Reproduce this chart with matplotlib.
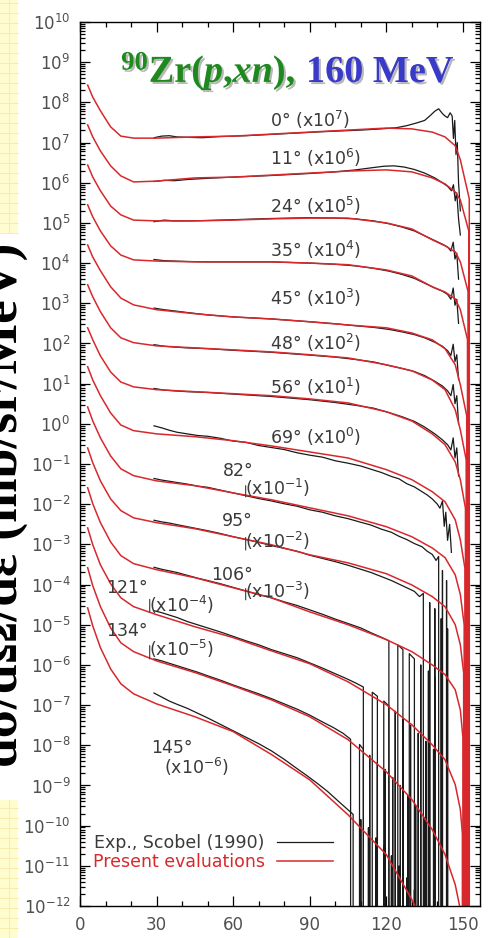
import numpy as np
import matplotlib.pyplot as plt
from matplotlib import patheffects
from matplotlib.lines import Line2D
from matplotlib.patches import Rectangle
from matplotlib.ticker import LogLocator, MultipleLocator, NullFormatter

plt.rcParams['font.family'] = ['DejaVu Sans']
plt.rcParams['mathtext.fontset'] = 'custom'
plt.rcParams['mathtext.it'] = 'Liberation Serif:italic:bold'
plt.rcParams['mathtext.default'] = 'regular'

Z = -np.inf  # channel with no counts (log10 of zero)

# emission angles (deg) and the power of ten each spectrum is scaled by
angles = [0, 11, 24, 35, 45, 48, 56, 69, 82, 95, 106, 121, 134, 145]
powers = [7, 6, 5, 4, 3, 2, 1, 0, -1, -2, -3, -4, -5, -6]

# present evaluations: log10 of scaled cross section on a common energy grid (MeV)
ev_e = [3, 5, 8, 12, 16, 21, 30, 45, 60, 75, 90, 105, 120, 130, 138, 143, 147, 149]
ev_0 = [8.43, 8.13, 7.79, 7.39, 7.16, 7.11, 7.11, 7.14, 7.16, 7.21, 7.26, 7.31, 7.36, 7.34, 7.26, 7.14, 6.92, 6.57]
ev_11 = [7.44, 7.14, 6.79, 6.42, 6.17, 6.02, 6.04, 6.12, 6.14, 6.19, 6.24, 6.29, 6.32, 6.27, 6.12, 5.97, 5.77, 5.57]
ev_24 = [6.44, 6.14, 5.80, 5.42, 5.20, 5.07, 5.05, 5.05, 5.07, 5.10, 5.12, 5.12, 5.00, 4.85, 4.58, 4.43, 4.28, 4.03]
ev_35 = [5.45, 5.15, 4.80, 4.43, 4.20, 4.08, 4.05, 4.03, 4.03, 4.03, 4.00, 3.96, 3.83, 3.68, 3.41, 3.28, 3.11, 2.84]
ev_45 = [4.45, 4.15, 3.81, 3.41, 3.13, 2.96, 2.84, 2.74, 2.66, 2.61, 2.54, 2.46, 2.39, 2.26, 2.09, 1.87, 1.47, 0.97]
ev_48 = [3.46, 3.16, 2.79, 2.39, 2.14, 2.02, 1.94, 1.89, 1.84, 1.79, 1.72, 1.64, 1.47, 1.32, 1.09, 0.85, 0.35, -0.15]
ev_56 = [2.39, 2.09, 1.69, 1.29, 1.04, 0.92, 0.85, 0.80, 0.75, 0.70, 0.62, 0.52, 0.30, 0.07, -0.25, -0.52, -0.95, -1.39]
ev_69 = [1.42, 1.09, 0.70, 0.27, -0.03, -0.17, -0.25, -0.32, -0.42, -0.55, -0.70, -0.85, -1.14, -1.39, -1.69, -1.94, -2.39, -2.89]
ev_82 = [0.42, 0.07, -0.35, -0.80, -1.12, -1.29, -1.42, -1.54, -1.72, -1.89, -2.09, -2.29, -2.56, -2.81, -3.09, -3.33, -3.76, -4.25]
ev_95 = [-0.60, -0.97, -1.42, -1.87, -2.16, -2.34, -2.46, -2.61, -2.81, -3.01, -3.26, -3.46, -3.73, -4.01, -4.30, -4.55, -5.00, -5.50]
ev_106 = [-1.59, -1.99, -2.46, -2.94, -3.28, -3.48, -3.63, -3.83, -4.08, -4.33, -4.68, -5.00, -5.37, -5.67, -6.00, -6.24, -6.62, -7.12]
ev_121 = [-2.59, -3.01, -3.51, -3.98, -4.33, -4.55, -4.75, -5.05, -5.32, -5.65, -5.97, -6.42, -6.99, -7.49, -7.99, -8.36, -8.98, -9.60]
ev_134 = [-3.58, -4.03, -4.55, -5.08, -5.45, -5.67, -5.90, -6.19, -6.52, -6.87, -7.29, -7.86, -8.66, -9.35, -10.10, -10.72, -11.47, -12.09]
ev_145 = [-4.58, -5.03, -5.57, -6.10, -6.47, -6.72, -6.97, -7.29, -7.66, -8.23, -8.86, -9.73, -10.72, -11.84, -12.84, -13.4, -14.0, -14.4]
# end point of each evaluated spectrum (MeV) and its last value before it drops to zero
ev_end = [152.5, 152.3, 152.0, 151.8, 151.5, 151.3, 151.0, 150.8, 150.5, 150.3, 150.0, 149.8, 149.5, 149.5]
ev_last = [5.6, 4.8, 3.3, 2.1, 0.2, -0.9, -2.1, -3.6, -5.0, -6.2, -7.8, -10.2, -12.6, -15.0]

# measured spectra, Scobel (1990): (energy MeV, log10 scaled cross section)
exp_0 = [(29, 7.12), (32, 7.16), (35, 7.17), (38, 7.14), (42, 7.13), (48, 7.12), (55, 7.15), (65, 7.17),
         (80, 7.22), (95, 7.27), (110, 7.31), (118, 7.34), (124, 7.37), (128, 7.42), (132, 7.49), (135, 7.55),
         (137, 7.66), (139, 7.78), (140.5, 7.84), (142, 7.72), (143, 7.66), (144, 7.62), (145, 7.74), (145.8, 7.66),
         (146.3, 7.1), (146.8, 7.55), (147.3, 6.7), (147.8, 7.0), (148.3, 6.0), (149, 5.3)]
exp_11 = [(29, 6.03), (33, 6.06), (37, 6.05), (42, 6.08), (50, 6.11), (60, 6.14), (75, 6.18), (90, 6.23),
          (100, 6.27), (108, 6.32), (114, 6.37), (119, 6.41), (123, 6.42), (127, 6.39), (131, 6.33), (135, 6.24),
          (139, 6.12), (142, 6.00), (144, 5.91), (145.5, 5.80), (146.3, 5.95), (147, 5.55), (147.6, 5.75),
          (148.3, 5.1), (149, 4.7)]
exp_24 = [(29, 5.03), (33, 5.07), (37, 5.05), (42, 5.05), (50, 5.06), (60, 5.08), (75, 5.11), (90, 5.13),
          (100, 5.12), (108, 5.10), (115, 5.05), (121, 4.98), (126, 4.90), (131, 4.80), (135, 4.68), (139, 4.56),
          (142, 4.47), (144, 4.40), (145.3, 4.30), (146.2, 4.52), (146.9, 4.10), (147.6, 4.25), (148.3, 3.6)]
exp_35 = [(29, 4.09), (33, 4.06), (37, 4.05), (42, 4.04), (50, 4.03), (60, 4.03), (75, 4.03), (90, 4.00),
          (100, 3.97), (108, 3.93), (115, 3.87), (121, 3.80), (126, 3.72), (131, 3.62), (135, 3.50), (139, 3.38),
          (142, 3.30), (144, 3.22), (145.3, 3.10), (146.2, 3.38), (146.9, 2.95), (147.6, 3.10), (148.3, 2.5)]
exp_45 = [(29, 2.88), (33, 2.84), (37, 2.81), (42, 2.77), (50, 2.71), (60, 2.66), (75, 2.61), (90, 2.54),
          (100, 2.49), (108, 2.44), (115, 2.40), (121, 2.35), (126, 2.29), (131, 2.22), (135, 2.14), (139, 2.03),
          (142, 1.93), (144, 1.82), (145.3, 1.70), (146.2, 1.98), (146.9, 1.55), (147.6, 1.72), (148.3, 1.1)]
exp_48 = [(29, 1.97), (33, 1.93), (37, 1.91), (42, 1.89), (50, 1.87), (60, 1.83), (75, 1.78), (90, 1.71),
          (100, 1.66), (108, 1.60), (115, 1.54), (121, 1.45), (126, 1.38), (131, 1.30), (135, 1.20), (139, 1.06),
          (142, 0.94), (144, 0.82), (145.3, 0.70), (146.2, 0.98), (146.9, 0.50), (147.6, 0.70), (148.3, 0.0)]
exp_56 = [(29, 0.88), (33, 0.84), (37, 0.82), (42, 0.80), (50, 0.78), (60, 0.74), (75, 0.68), (90, 0.60),
          (100, 0.53), (108, 0.46), (115, 0.39), (121, 0.28), (126, 0.18), (131, 0.06), (135, -0.08), (139, -0.25),
          (142, -0.40), (144, -0.52), (145.3, -0.65), (146.2, -0.35), (146.9, -0.85), (147.6, -0.60), (148.3, -1.3)]
exp_69 = [(29, -0.05), (32, -0.10), (35, -0.16), (38, -0.21), (42, -0.25), (46, -0.29), (50, -0.31), (55, -0.36),
          (60, -0.43), (65, -0.46), (70, -0.54), (75, -0.59), (80, -0.64), (85, -0.72), (90, -0.78), (95, -0.83),
          (100, -0.92), (105, -0.98), (110, -1.05), (114, -1.13), (118, -1.21), (122, -1.31), (125, -1.37),
          (128, -1.49), (131, -1.57), (134, -1.69), (136, -1.77), (138, -1.87), (140, -2.00), (141, -2.10),
          (142, -1.92), (142.7, -2.55), (143.3, -2.2), (144, -2.9), (144.8, -2.5), (145.5, -3.2)]
exp_82 = [(29, -1.36), (32, -1.40), (35, -1.43), (38, -1.46), (42, -1.50), (46, -1.55), (50, -1.58), (55, -1.65),
          (60, -1.72), (65, -1.79), (70, -1.86), (75, -1.92), (80, -1.99), (85, -2.05), (90, -2.14), (95, -2.20),
          (100, -2.29), (105, -2.36), (110, -2.45), (114, -2.52), (118, -2.62), (122, -2.70), (125, -2.80),
          (128, -2.88), (131, -2.98), (134, -3.06), (136, -3.17), (138, -3.25), (139.5, -3.40), (140.5, -3.30),
          (141.2, Z), (142, -3.65), (142.8, Z), (143.6, -3.9), (144.3, Z)]
exp_95 = [(29, -2.40), (32, -2.44), (35, -2.47), (38, -2.51), (42, -2.56), (46, -2.61), (50, -2.66), (55, -2.73),
          (60, -2.81), (65, -2.88), (70, -2.95), (75, -3.03), (80, -3.10), (85, -3.17), (90, -3.27), (95, -3.35),
          (100, -3.43), (105, -3.52), (110, -3.62), (114, -3.70), (118, -3.80), (122, -3.90), (125, -3.99),
          (128, -4.08), (131, -4.17), (133, -4.30), (134.5, -4.22), (136, Z), (137, -4.45), (138, Z), (139, -4.6),
          (140, Z), (141.5, -4.85), (142.5, Z), (144, -5.1), (145, Z)]
exp_106 = [(29, -3.57), (32, -3.62), (35, -3.66), (38, -3.70), (42, -3.77), (46, -3.84), (50, -3.90), (55, -3.98),
           (60, -4.07), (65, -4.16), (70, -4.25), (75, -4.33), (80, -4.43), (85, -4.52), (90, -4.63), (95, -4.74),
           (100, -4.86), (105, -4.97), (110, -5.08), (114, -5.20), (118, -5.31), (121, -5.40), (123, Z),
           (124.5, -5.50), (126.5, -5.62), (127.5, Z), (129, -5.72), (131, -5.85), (132, Z), (133.5, -6.0),
           (135, Z), (136.5, -6.15), (137.5, Z), (139, -6.3), (140, Z)]
exp_121 = [(29, -4.65), (32, -4.70), (35, -4.76), (38, -4.82), (42, -4.92), (46, -5.00), (50, -5.08), (55, -5.18),
           (60, -5.29), (65, -5.40), (70, -5.50), (75, -5.62), (80, -5.72), (85, -5.82), (90, -5.95), (95, -6.08),
           (100, -6.22), (104, -6.33), (108, -6.45), (111, -6.55), (113, Z), (114.5, -6.68), (116.5, -6.78),
           (117.5, Z), (119, -6.90), (121, -7.02), (122, Z), (123.5, -7.15), (125, Z), (126.5, -7.35), (128, Z),
           (129.5, -7.50), (131, Z), (132.5, -7.70), (134, Z), (135.5, -7.90), (137, Z), (138.5, -8.1), (140, Z)]
exp_134 = [(29, -5.85), (32, -5.90), (35, -5.96), (38, -6.02), (42, -6.10), (46, -6.18), (50, -6.27), (55, -6.38),
           (60, -6.50), (65, -6.61), (70, -6.72), (75, -6.84), (80, -6.97), (85, -7.10), (90, -7.25), (95, -7.42),
           (99, -7.55), (103, -7.70), (106, -7.85), (108, Z), (109.5, -7.98), (111, -8.10), (112, Z),
           (113.5, -8.25), (115, Z), (116.5, -8.42), (118, Z), (119.5, -8.60), (121, Z), (122.5, -8.80), (124, Z),
           (125.5, -9.00), (127, Z), (128.5, -9.25), (130, Z), (131.5, -9.50), (133, Z), (135, -9.8), (136, Z)]
exp_145 = [(29, -6.70), (32, -6.80), (35, -6.90), (38, -6.98), (42, -7.08), (46, -7.20), (50, -7.32), (55, -7.48),
           (60, -7.64), (65, -7.80), (70, -7.96), (75, -8.14), (80, -8.35), (85, -8.58), (89, -8.76), (93, -8.95),
           (97, -9.15), (101, -9.38), (104, -9.55), (107, -9.72), (108.5, Z), (110, -9.85), (111.5, Z),
           (113, -10.05), (114.5, Z), (116, -10.30), (117.5, Z), (119, -10.50), (120.5, Z), (122, -10.75),
           (123.5, Z), (125, -11.0), (126.5, Z), (128, -11.3), (129.5, Z), (131, -11.6), (132.5, Z)]

ev_sets = [ev_0, ev_11, ev_24, ev_35, ev_45, ev_48, ev_56, ev_69, ev_82, ev_95, ev_106, ev_121, ev_134, ev_145]
exp_sets = [exp_0, exp_11, exp_24, exp_35, exp_45, exp_48, exp_56, exp_69, exp_82, exp_95, exp_106,
            exp_121, exp_134, exp_145]

RED = '#d8282c'
BLACK = '#1a1a1a'
GRAY = '#3a3a3a'
YELLOW = '#fffcd0'
LFS = 12.5  # label font size

fig = plt.figure(figsize=(4.92, 9.38), dpi=100)
# narrow yellow strip of the slide background at the left edge, with its faint grid
for y0, h in [(1 - 233 / 938, 233 / 938), (0, 138 / 938)]:
    fig.patches.append(Rectangle((0, y0), 18 / 492, h, transform=fig.transFigure,
                                 fc=YELLOW, ec='none', zorder=0))
    for gy in np.arange(y0, y0 + h, 10 / 938):
        fig.add_artist(Line2D([0, 18 / 492], [gy, gy], transform=fig.transFigure,
                              color='#f4eaa8', lw=0.6, zorder=0.5))
    fig.add_artist(Line2D([9 / 492, 9 / 492], [y0, y0 + h], transform=fig.transFigure,
                          color='#f4eaa8', lw=0.6, zorder=0.5))

ax = fig.add_axes([80 / 492, 32 / 938, 400 / 492, 884 / 938])

for i in range(len(angles)):
    e, l = zip(*exp_sets[i])
    ax.plot(e, np.power(10.0, l), color=BLACK, lw=0.9,
            label='Exp., Scobel (1990)' if i == 0 else None)
for i in range(len(angles)):
    e = ev_e + [ev_end[i], ev_end[i]]
    l = ev_sets[i] + [ev_last[i], Z]
    ax.plot(e, np.power(10.0, l), color=RED, lw=1.1,
            label='Present evaluations' if i == 0 else None)

ax.set_yscale('log')
ax.set_xlim(0, 156.7)
ax.set_ylim(1e-12, 1e10)
ax.yaxis.set_major_locator(LogLocator(base=10, numticks=40))
ax.yaxis.set_minor_locator(LogLocator(base=10, subs=np.arange(2, 10), numticks=40))
ax.yaxis.set_minor_formatter(NullFormatter())
ax.xaxis.set_major_locator(MultipleLocator(30))
ax.xaxis.set_minor_locator(MultipleLocator(10))
ax.tick_params(which='both', direction='in', top=True, right=True, width=0.9)
ax.tick_params(which='major', length=7, labelsize=12, labelcolor='#505050', pad=7)
ax.tick_params(which='minor', length=3.5)
for s in ax.spines.values():
    s.set_linewidth(1.0)

# angle labels, forward angles on one line
fwd_y = [7.56, 6.62, 5.42, 4.33, 3.13, 2.02, 0.92, -0.32]
for i, y in enumerate(fwd_y):
    ax.text(74.4, 10 ** y, f'{angles[i]}° (x10$^{{{powers[i]}}}$)', ha='left', va='center',
            fontsize=LFS, color=GRAY)

# backward angles: angle above, factor below, with a short pointer to the curve
back = [(8, 67.8, -1.17, 64.6, -1.59, -1.47, -1.89),
        (9, 67.8, -2.41, 64.6, -2.91, -2.76, -3.21),
        (10, 67.8, -3.76, 64.6, -4.15, -4.03, -4.45),
        (11, 26.6, -4.08, 27.0, -4.50, -4.30, -4.75),
        (12, 26.6, -5.15, 27.0, -5.60, -5.45, -5.92)]
for k, xa, ya, xf, yf, y0, y1 in back:
    ax.text(xa, 10 ** ya, f'{angles[k]}°', ha='right', va='center', fontsize=LFS, color=GRAY)
    ax.text(xf, 10 ** yf, f'(x10$^{{{powers[k]}}}$)', ha='left', va='center', fontsize=LFS, color=GRAY)
    ax.annotate('', xy=(xf + 0.3, 10 ** y1), xytext=(xf + 0.3, 10 ** y0),
                arrowprops=dict(arrowstyle='-', color=GRAY, lw=0.8))
ax.text(36, 10 ** -8.06, f'{angles[13]}°', ha='center', va='center', fontsize=LFS, color=GRAY)
ax.text(45.8, 10 ** -8.53, f'(x10$^{{{powers[13]}}}$)', ha='center', va='center', fontsize=LFS, color=GRAY)

ax.legend(loc='upper left', bbox_to_anchor=(0.032, 0.081), frameon=False, markerfirst=False,
          handlelength=3.2, handletextpad=0.7, labelspacing=0.05, borderpad=0, borderaxespad=0,
          fontsize=LFS, labelcolor=[GRAY, RED])

# title inside the frame
shadow = [patheffects.withSimplePatchShadow(offset=(1.5, -1.5), shadow_rgbFace='#888888', alpha=0.6)]
fig.text(296 / 492, 1 - 82 / 938, r'$^{90}$Zr($\mathit{p}$,$\mathit{xn}$),', ha='right', va='baseline',
         fontsize=27.5, fontfamily='Liberation Serif', fontweight='bold', color='#1e8a1e', path_effects=shadow)
fig.text(306 / 492, 1 - 82 / 938, '160 MeV', ha='left', va='baseline',
         fontsize=27.5, fontfamily='Liberation Serif', fontweight='bold', color='#3a3ac8', path_effects=shadow)

# large axis title of the slide, partly cut by the left edge
fig.text(17 / 492, 1 - 505 / 938, 'dσ/dΩ/dε (mb/sr/MeV)', rotation=90, rotation_mode='anchor',
         ha='center', va='baseline', fontsize=38.5, fontfamily='Liberation Serif', fontweight='bold',
         color='black')

fig.savefig('out.png', dpi=100)
